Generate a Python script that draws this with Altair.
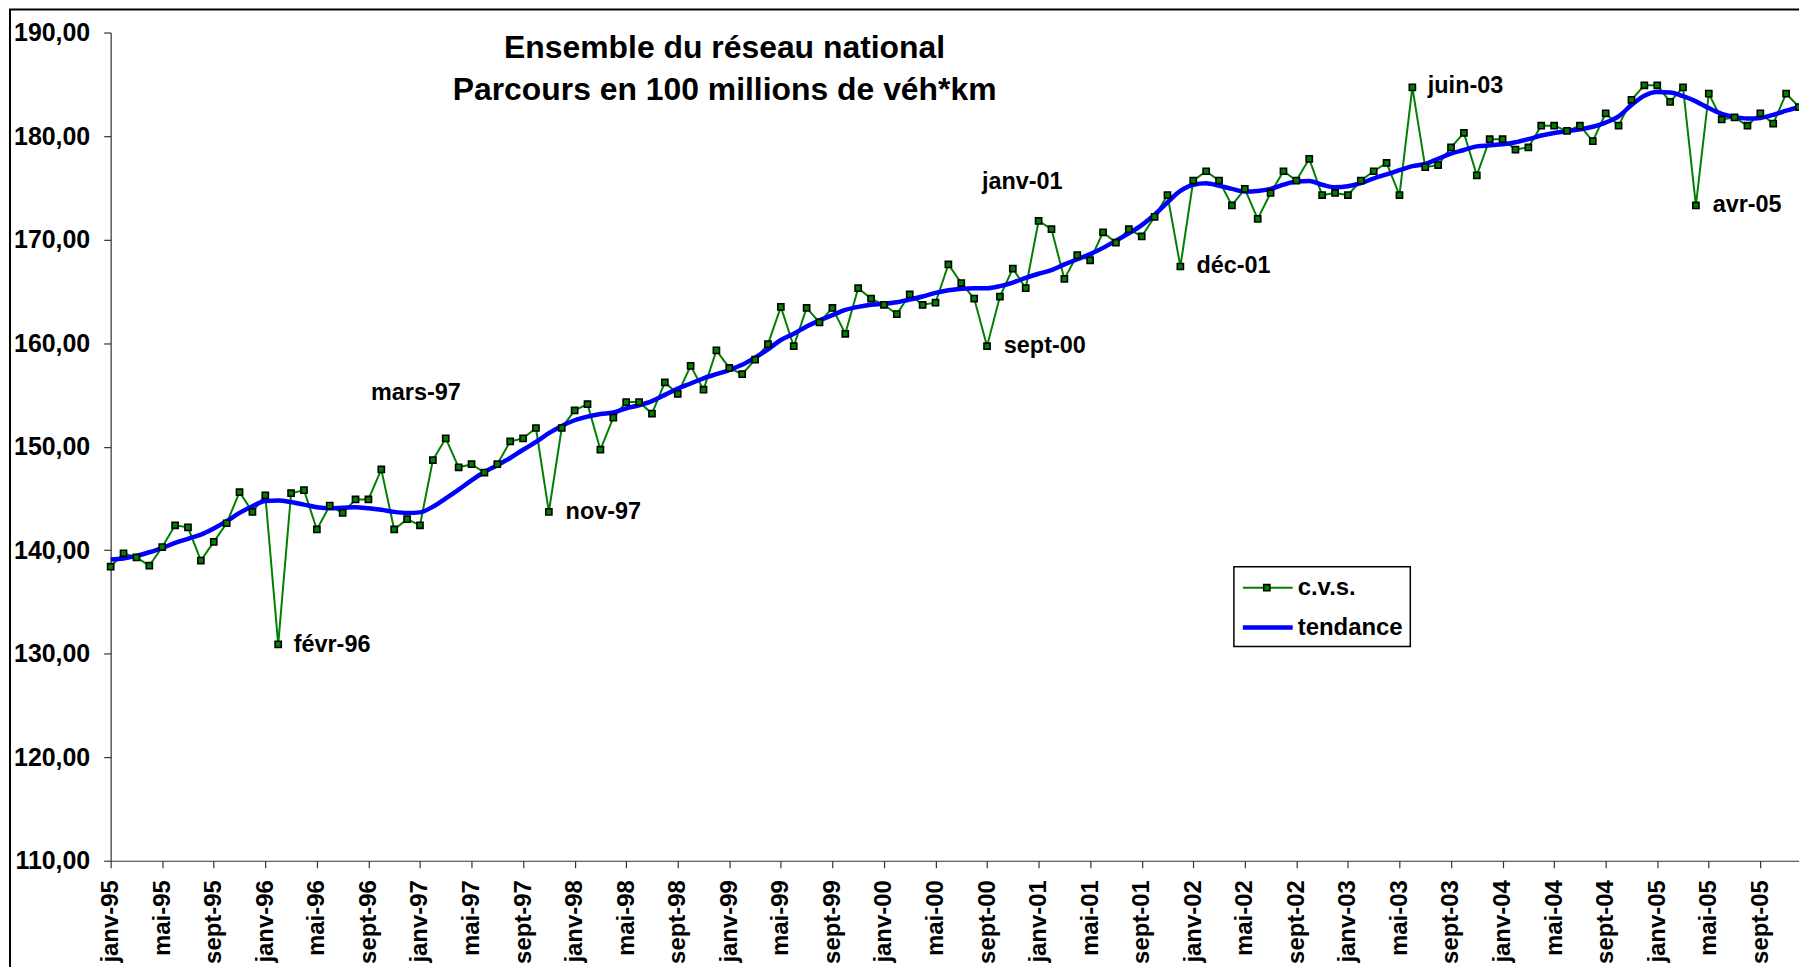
import json
import altair as alt
import pandas as pd

# ---------------- data ----------------
cvs = [
    138.4, 139.7, 139.3, 138.5, 140.3, 142.4, 142.2, 139.0, 140.8, 142.6, 145.6, 143.7,
    145.3, 130.9, 145.5, 145.8, 142.0, 144.3, 143.6, 144.9, 144.9, 147.8, 142.0, 143.0,
    142.4, 148.7, 150.8, 148.0, 148.3, 147.5, 148.3, 150.5, 150.8, 151.8, 143.7, 151.8,
    153.5, 154.1, 149.7, 152.8, 154.3, 154.3, 153.2, 156.2, 155.1, 157.8, 155.5, 159.3,
    157.6, 157.0, 158.4, 159.9, 163.5, 159.7, 163.4, 162.0, 163.4, 160.9, 165.3, 164.3,
    163.7, 162.8, 164.7, 163.7, 163.9, 167.6, 165.8, 164.3, 159.7, 164.5, 167.2, 165.3,
    171.8, 171.0, 166.2, 168.5, 168.0, 170.7, 169.7, 171.0, 170.3, 172.2, 174.3, 167.4,
    175.7, 176.6, 175.7, 173.3, 174.9, 172.0, 174.5, 176.6, 175.7, 177.8, 174.3, 174.5,
    174.3, 175.7, 176.6, 177.4, 174.3, 184.7, 177.0, 177.2, 178.9, 180.3, 176.2, 179.7,
    179.7, 178.7, 178.9, 181.0, 181.0, 180.5, 181.0, 179.5, 182.2, 181.0, 183.5, 184.9,
    184.9, 183.3, 184.7, 173.3, 184.1, 181.6, 181.8, 181.0, 182.2, 181.2, 184.1, 182.8,
]
tendance = [
    139.1, 139.2, 139.45, 139.8, 140.2, 140.7, 141.1, 141.5, 142.1, 142.8, 143.6, 144.25,
    144.75, 144.8, 144.65, 144.4, 144.15, 144.05, 144.1, 144.15, 144.05, 143.9, 143.7, 143.6,
    143.65, 144.2, 145.0, 145.85, 146.75, 147.55, 148.2, 148.9, 149.7, 150.45, 151.3, 152.0,
    152.55, 152.9, 153.15, 153.3, 153.7, 154.0, 154.4, 155.0, 155.6, 156.1, 156.6, 157.0,
    157.4, 157.9, 158.6, 159.4, 160.3, 160.9, 161.6, 162.2, 162.7, 163.2, 163.5, 163.7,
    163.8, 163.95, 164.2, 164.5, 164.85, 165.1, 165.25, 165.3, 165.3, 165.5, 165.85, 166.3,
    166.7, 167.05, 167.6, 168.1, 168.6, 169.2, 169.9, 170.6, 171.4, 172.4, 173.6, 174.7,
    175.3, 175.45, 175.2, 174.9, 174.65, 174.7, 174.9, 175.3, 175.6, 175.65, 175.3, 175.05,
    175.15, 175.45, 175.9, 176.3, 176.7, 177.1, 177.3, 177.8, 178.3, 178.65, 179.0, 179.1,
    179.2, 179.4, 179.7, 180.05, 180.3, 180.45, 180.65, 180.9, 181.3, 181.9, 183.0, 183.9,
    184.25, 184.2, 183.85, 183.35, 182.7, 182.15, 181.85, 181.7, 181.75, 182.05, 182.45, 182.8,
]
tick_labels = [
    "janv-95", "mai-95", "sept-95", "janv-96", "mai-96", "sept-96",
    "janv-97", "mai-97", "sept-97", "janv-98", "mai-98", "sept-98",
    "janv-99", "mai-99", "sept-99", "janv-00", "mai-00", "sept-00",
    "janv-01", "mai-01", "sept-01", "janv-02", "mai-02", "sept-02",
    "janv-03", "mai-03", "sept-03", "janv-04", "mai-04", "sept-04",
    "janv-05", "mai-05", "sept-05",
]
y_ticks = [110, 120, 130, 140, 150, 160, 170, 180, 190]
ann_text = ["févr-96", "mars-97", "nov-97", "sept-00", "janv-01", "déc-01", "juin-03", "avr-05"]
ann_month = [14.2, 20.2, 35.3, 69.3, 67.6, 84.25, 102.2, 124.3]
ann_value = [130.86, 155.16, 143.73, 159.71, 175.58, 167.48, 184.79, 173.36]
title_lines = ["Ensemble du réseau national", "Parcours en 100 millions de véh*km"]
legend_labels = ["c.v.s.", "tendance"]

# ---------------- styling / layout ----------------
FONT = "Liberation Sans"
GREEN = "#008000"
BLUE = "#0000FF"
AXIS = "#333333"
W, H = 1694, 831

n = len(cvs)
df = pd.DataFrame({"m": list(range(n)), "cvs": cvs, "tendance": tendance})
ann = pd.DataFrame({"m": ann_month, "v": ann_value, "t": ann_text})
one = pd.DataFrame({"k": [0]})

label_expr = json.dumps(tick_labels) + "[round(datum.value / 4)]"
x_vals = [4 * i for i in range(len(tick_labels))]

x_scale = alt.Scale(domain=[0, n - 1], nice=False, zero=False)
y_scale = alt.Scale(domain=[110, 190], nice=False, zero=False)

x_axis = alt.Axis(
    values=x_vals, labelExpr=label_expr, labelAngle=270, labelFontSize=24,
    labelFontWeight="bold", labelFont=FONT, labelColor="black", labelPadding=12,
    tickSize=7, tickColor=AXIS, tickWidth=1.2, domainColor=AXIS, domainWidth=1.2,
    grid=False, labelOverlap=False, labelBound=False, labelFlush=False, title=None,
)
y_axis = alt.Axis(
    values=y_ticks, labelExpr="replace(format(datum.value, '.2f'), '.', ',')",
    labelFontSize=25, labelFontWeight="bold", labelFont=FONT, labelColor="black",
    labelPadding=14, tickSize=7, tickColor=AXIS, tickWidth=1.2, domainColor=AXIS,
    domainWidth=1.2, grid=False, labelOverlap=False, labelFlush=False, title=None,
)

base = alt.Chart(df)
cvs_line = base.mark_line(color=GREEN, strokeWidth=2).encode(
    x=alt.X("m:Q", scale=x_scale, axis=x_axis),
    y=alt.Y("cvs:Q", scale=y_scale, axis=y_axis),
)
trend_line = base.mark_line(color=BLUE, strokeWidth=4.5, interpolate="monotone").encode(
    x=alt.X("m:Q", scale=x_scale, axis=x_axis),
    y=alt.Y("tendance:Q", scale=y_scale, axis=y_axis),
)
cvs_pts = base.mark_point(
    shape="square", filled=True, fill=GREEN, stroke="black", strokeWidth=1.6,
    size=38, opacity=1,
).encode(
    x=alt.X("m:Q", scale=x_scale, axis=x_axis),
    y=alt.Y("cvs:Q", scale=y_scale, axis=y_axis),
)
annots = alt.Chart(ann).mark_text(
    align="left", baseline="middle", font=FONT, fontSize=23.5, fontWeight="bold",
    color="black",
).encode(
    x=alt.X("m:Q", scale=x_scale, axis=x_axis),
    y=alt.Y("v:Q", scale=y_scale, axis=y_axis),
    text="t:N",
)

# frame around the whole chart (extends past the cropped right/bottom edges)
frame = alt.Chart(one).mark_rect(filled=False, stroke="black", strokeWidth=2).encode(
    x=alt.value(-101), x2=alt.value(W + 60), y=alt.value(-23), y2=alt.value(H + 200)
)

# title
title1 = alt.Chart(one).mark_text(
    align="center", baseline="middle", font=FONT, fontSize=32, fontWeight="bold", color="black",
    text=title_lines[0],
).encode(x=alt.value(616), y=alt.value(16))
title2 = alt.Chart(one).mark_text(
    align="center", baseline="middle", font=FONT, fontSize=32, fontWeight="bold", color="black",
    text=title_lines[1],
).encode(x=alt.value(616), y=alt.value(58))

# legend
leg_box = alt.Chart(one).mark_rect(fill="white", stroke="black", strokeWidth=1.5).encode(
    x=alt.value(1127), x2=alt.value(1304), y=alt.value(536), y2=alt.value(616)
)
leg_l1 = alt.Chart(one).mark_rule(color=GREEN, strokeWidth=2).encode(
    x=alt.value(1136), x2=alt.value(1186), y=alt.value(557)
)
leg_p1 = alt.Chart(one).mark_point(
    shape="square", filled=True, fill=GREEN, stroke="black", strokeWidth=1.6, size=38, opacity=1
).encode(x=alt.value(1160), y=alt.value(557))
leg_l2 = alt.Chart(one).mark_rule(color=BLUE, strokeWidth=4.5).encode(
    x=alt.value(1136), x2=alt.value(1186), y=alt.value(597)
)
leg_t1 = alt.Chart(one).mark_text(
    align="left", baseline="middle", font=FONT, fontSize=24, fontWeight="bold", color="black",
    text=legend_labels[0],
).encode(x=alt.value(1191), y=alt.value(557))
leg_t2 = alt.Chart(one).mark_text(
    align="left", baseline="middle", font=FONT, fontSize=24, fontWeight="bold", color="black",
    text=legend_labels[1],
).encode(x=alt.value(1191), y=alt.value(597))

chart = alt.layer(
    frame, cvs_line, trend_line, cvs_pts, annots, title1, title2,
    leg_box, leg_l1, leg_p1, leg_l2, leg_t1, leg_t2,
).properties(
    width=W, height=H,
    padding={"left": 103, "top": 23, "right": 0, "bottom": 105},
    autosize=alt.AutoSizeParams(type="none"),
    background="white",
).configure_view(stroke=None)

chart.save("out.html", embed_options={"renderer": "svg", "actions": False})
